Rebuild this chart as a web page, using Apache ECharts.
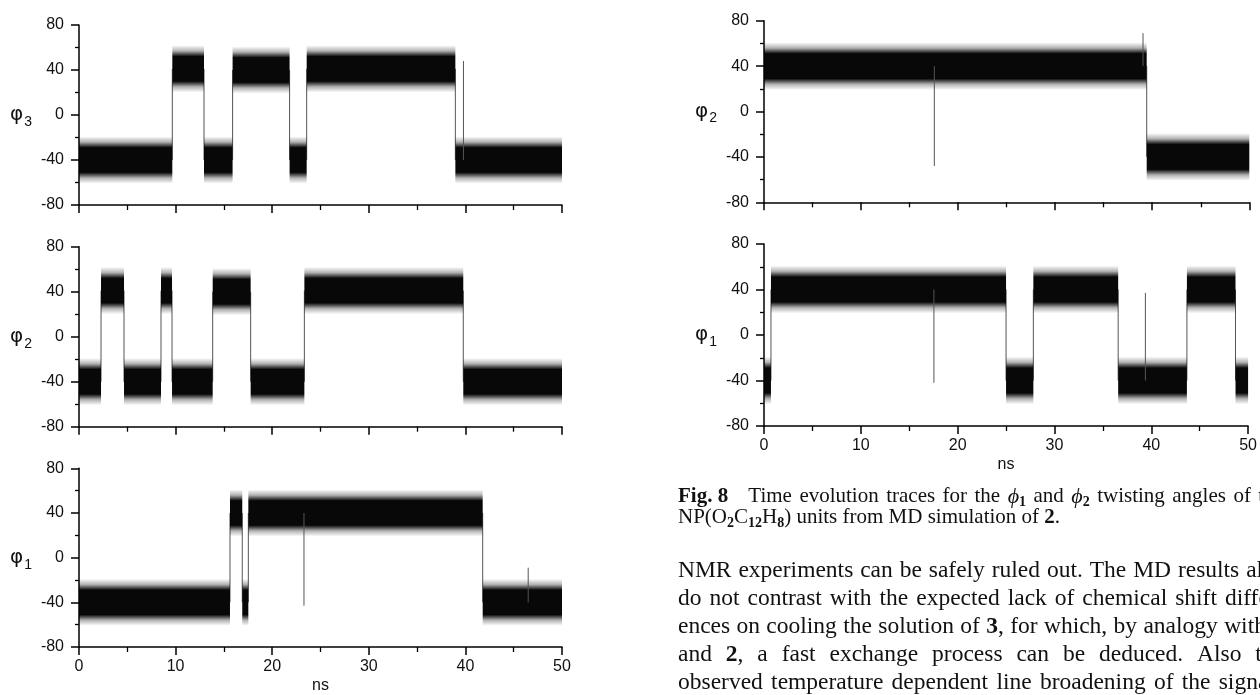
<!DOCTYPE html>
<html><head><meta charset="utf-8">
<script src="https://cdn.jsdelivr.net/npm/echarts@6/dist/echarts.min.js"></script>
<style>html,body{margin:0;padding:0;background:#fff}#c{width:1260px;height:695px}</style>
</head><body><div id="c"></div>
<script>
// ---- data: [start ns, end ns, mean angle] ----
const xTicks = [0, 10, 20, 30, 40, 50];
const yTicks = [-80, -40, 0, 40, 80];
const phi3Left = [[0,9.66,-40],[9.66,12.94,41],[12.94,15.9,-40],[15.9,21.8,40],[21.8,23.57,-40],[23.57,38.96,41],[38.96,50,-40]];
const phi3LeftSpikes = [[39.8,-40,48]];
const phi2Left = [[0,2.28,-40],[2.28,4.66,41],[4.66,8.49,-40],[8.49,9.63,41],[9.63,13.84,-40],[13.84,17.77,40],[17.77,23.33,-40],[23.33,39.78,41],[39.78,50,-40]];
const phi2LeftSpikes = [];
const phi1Left = [[0,15.63,-40],[15.63,16.9,40],[16.9,17.53,-40],[17.53,41.79,40],[41.79,50,-40]];
const phi1LeftSpikes = [[23.29,40,-43],[46.5,-40,-9]];
const phi2Right = [[0,39.43,40],[39.43,50,-40]];
const phi2RightSpikes = [[17.55,40,-48],[39.05,40,69]];
const phi1Right = [[0,0.72,-40],[0.72,25.0,40],[25.0,27.82,-40],[27.82,36.58,40],[36.58,43.68,-40],[43.68,48.7,40],[48.7,50,-40]];
const phi1RightSpikes = [[17.55,40,-42],[39.39,-40,37]];
// noise band half widths (degrees): dense core and sparse fringe
const bandCore = 11;
const bandOuter = 21;

const panels = [
  {seg: phi3Left, spk: phi3LeftSpikes, sub: '3', grid: {left: 79, top: 25, width: 483, height: 180}, labels: false},
  {seg: phi2Left, spk: phi2LeftSpikes, sub: '2', grid: {left: 79, top: 246.7, width: 483, height: 180}, labels: false},
  {seg: phi1Left, spk: phi1LeftSpikes, sub: '1', grid: {left: 79, top: 468.3, width: 483, height: 180}, labels: true},
  {seg: phi2Right, spk: phi2RightSpikes, sub: '2', grid: {left: 764, top: 20.7, width: 485.3, height: 181.6}, labels: false},
  {seg: phi1Right, spk: phi1RightSpikes, sub: '1', grid: {left: 764, top: 244, width: 485.3, height: 182}, labels: true}
];

const axisFont = 'Liberation Sans';
const grids = [], xAxes = [], yAxes = [], series = [];
const f = (bandOuter - bandCore) / (2 * bandOuter);
const bandFill = {type: 'linear', x: 0, y: 0, x2: 0, y2: 1, colorStops: [
  {offset: 0, color: 'rgba(0,0,0,0)'},
  {offset: f * 0.5, color: 'rgba(0,0,0,0.3)'},
  {offset: f, color: 'rgba(0,0,0,0.97)'},
  {offset: 1 - f, color: 'rgba(0,0,0,0.97)'},
  {offset: 1 - f * 0.5, color: 'rgba(0,0,0,0.3)'},
  {offset: 1, color: 'rgba(0,0,0,0)'}
]};

panels.forEach((p, i) => {
  grids.push(Object.assign({containLabel: false}, p.grid));
  xAxes.push({
    type: 'value', gridIndex: i, min: xTicks[0], max: xTicks[xTicks.length - 1], interval: 10,
    name: p.labels ? 'ns' : '', nameLocation: 'middle', nameGap: 31,
    nameTextStyle: {fontFamily: axisFont, fontSize: 16, color: '#111'},
    axisLine: {show: true, onZero: false, lineStyle: {color: '#000', width: 1.5}},
    axisTick: {show: true, inside: false, length: 8, lineStyle: {color: '#000', width: 1.5}},
    minorTick: {show: true, splitNumber: 2, length: 5, lineStyle: {color: '#000', width: 1.3}},
    axisLabel: {show: p.labels, margin: 12, fontFamily: axisFont, fontSize: 16, color: '#111'},
    splitLine: {show: false}
  });
  yAxes.push({
    type: 'value', gridIndex: i, min: yTicks[0], max: yTicks[yTicks.length - 1], interval: 40,
    name: '{a|φ}{b|' + p.sub + '}', nameLocation: 'middle', nameRotate: 0, nameGap: 47,
    nameTextStyle: {rich: {
      a: {fontFamily: 'DejaVu Sans', fontSize: 20, color: '#111'},
      b: {fontFamily: axisFont, fontSize: 14, color: '#111', padding: [14, 0, 0, 1]}
    }},
    axisLine: {show: true, lineStyle: {color: '#000', width: 1.5}},
    axisTick: {show: true, inside: false, length: 8, lineStyle: {color: '#000', width: 1.5}},
    minorTick: {show: true, splitNumber: 2, length: 4, lineStyle: {color: '#000', width: 1.3}},
    axisLabel: {margin: 15, fontFamily: axisFont, fontSize: 16, color: '#111'},
    splitLine: {show: false}
  });
  // thin transition lines between consecutive states
  const trans = [];
  for (let k = 0; k + 1 < p.seg.length; k++) trans.push([p.seg[k][1], p.seg[k][2], p.seg[k + 1][2]]);
  const vline = (params, api) => {
    const a = api.coord([api.value(0), api.value(1)]);
    const b = api.coord([api.value(0), api.value(2)]);
    return {type: 'line', shape: {x1: a[0], y1: a[1], x2: b[0], y2: b[1]},
      style: {stroke: '#555', lineWidth: 1}};
  };
  series.push({type: 'custom', xAxisIndex: i, yAxisIndex: i, data: trans, clip: true, silent: true,
    animation: false, renderItem: vline, z: 1});
  // noise bands
  series.push({
    type: 'custom', xAxisIndex: i, yAxisIndex: i, data: p.seg, clip: true, silent: true, animation: false, z: 2,
    renderItem: (params, api) => {
      const a = api.coord([api.value(0), api.value(2) + bandOuter]);
      const b = api.coord([api.value(1), api.value(2) - bandOuter]);
      return {type: 'rect', shape: {x: a[0], y: a[1], width: b[0] - a[0], height: b[1] - a[1]},
        style: {fill: bandFill}};
    }
  });
  // isolated spikes
  series.push({type: 'custom', xAxisIndex: i, yAxisIndex: i, data: p.spk, clip: true, silent: true,
    animation: false, renderItem: vline, z: 3});
});

// ---- caption and body text (justified like the printed column) ----
const serif = 'Liberation Serif';
const textX = 678;
const colWidth = 606;
const capSize = 21, bodySize = 23.5;
const captionLines = [
  ['{b|Fig. 8}', ' ', 'Time', 'evolution', 'traces', 'for', 'the', '{i|ϕ}{s|1}', 'and', '{i|ϕ}{s|2}', 'twisting', 'angles', 'of', 'the'],
  ['NP(O{s|2}C{s|12}H{s|8})', 'units', 'from', 'MD', 'simulation', 'of', '{b|2}.']
];
const bodyLines = [
  ['NMR', 'experiments', 'can', 'be', 'safely', 'ruled', 'out.', 'The', 'MD', 'results', 'also'],
  ['do', 'not', 'contrast', 'with', 'the', 'expected', 'lack', 'of', 'chemical', 'shift', 'differ-'],
  ['ences', 'on', 'cooling', 'the', 'solution', 'of', '{b|3},', 'for', 'which,', 'by', 'analogy', 'with', '{b|1}'],
  ['and', '{b|2},', 'a', 'fast', 'exchange', 'process', 'can', 'be', 'deduced.', 'Also', 'the'],
  ['observed', 'temperature', 'dependent', 'line', 'broadening', 'of', 'the', 'signals']
];
function richFor(size) {
  return {
    b: {fontFamily: serif, fontSize: size, fontWeight: 'bold', color: '#111'},
    i: {fontFamily: serif, fontSize: size + 1, fontStyle: 'italic', color: '#111'},
    s: {fontFamily: serif, fontSize: Math.round(size * 0.68), fontWeight: 'bold', color: '#111', padding: [Math.round(size * 0.5), 0, 0, 0]}
  };
}
const ctx = document.createElement('canvas').getContext('2d');
function measure(word, size) {
  const rich = richFor(size);
  let w = 0; const re = /\{(\w)\|([^}]*)\}|([^{]+)/g; let m;
  while ((m = re.exec(word))) {
    if (m[3] !== undefined) { ctx.font = size + 'px "' + serif + '"'; w += ctx.measureText(m[3]).width; }
    else { const r = rich[m[1]];
      ctx.font = (r.fontStyle || 'normal') + ' ' + (r.fontWeight || 'normal') + ' ' + r.fontSize + 'px "' + serif + '"';
      w += ctx.measureText(m[2]).width; }
  }
  return w;
}
const graphics = [];
function layLine(words, y, size, justify) {
  ctx.font = size + 'px "' + serif + '"';
  const sp = ctx.measureText(' ').width;
  const widths = words.map(w => measure(w, size));
  const total = widths.reduce((a, b) => a + b, 0);
  let gap = sp;
  if (justify && words.length > 1) gap = Math.max(sp, (colWidth - total) / (words.length - 1));
  let x = textX;
  words.forEach((w, k) => {
    if (w.trim() !== '') graphics.push({type: 'text', left: x, top: y, silent: true,
      style: {text: w, rich: richFor(size), fontFamily: serif, fontSize: size, fill: '#111'}});
    x += widths[k] + gap;
  });
}
captionLines.forEach((l, k) => layLine(l, 486 + k * 21, capSize, k === 0));
bodyLines.forEach((l, k) => layLine(l, 559 + k * 28, bodySize, true));

const chart = echarts.init(document.getElementById('c'), null, {renderer: 'canvas'});
chart.setOption({
  animation: false,
  backgroundColor: '#fff',
  grid: grids, xAxis: xAxes, yAxis: yAxes, series: series, graphic: graphics
});
</script></body></html>
